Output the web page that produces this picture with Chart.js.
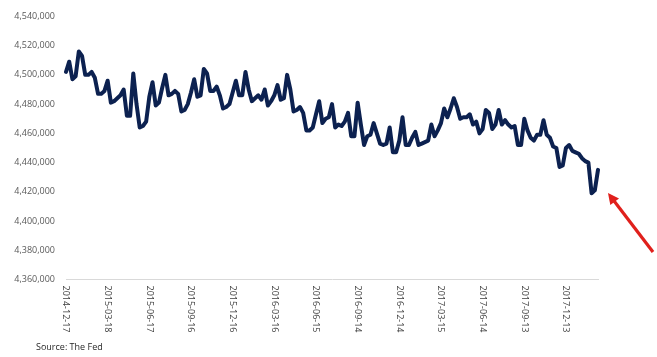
<!DOCTYPE html>
<html>
<head>
<meta charset="utf-8">
<script src="https://cdn.jsdelivr.net/npm/chart.js@4"></script>
<style>
  html, body { margin: 0; padding: 0; background: #fff; }
  #wrap { position: relative; width: 657px; height: 357px; }
  #source { position: absolute; left: 36px; top: 340px; font: 9px "Open Sans", sans-serif; color: #262626; }
</style>
</head>
<body>
<div id="wrap">
  <canvas id="c" width="657" height="357"></canvas>
  <div id="source">Source: The Fed</div>
</div>
<script>
// ---- data ----
const startDate = "2014-12-17";
const tickLabels = ["2014-12-17","2015-03-18","2015-06-17","2015-09-16","2015-12-16","2016-03-16","2016-06-15","2016-09-14","2016-12-14","2017-03-15","2017-06-14","2017-09-13","2017-12-13"];
const seriesValues = [
  4502000,4509000,4497000,4499000,4516000,4513000,4500000,4500000,4502000,4498000,
  4487000,4487000,4489000,4496000,4481000,4482000,4484000,4486000,4490000,4472000,
  4472000,4501000,4480000,4464000,4465000,4468000,4485000,4495000,4479000,4481000,
  4491000,4500000,4486000,4487000,4489000,4487000,4475000,4476000,4480000,4488000,
  4497000,4485000,4486000,4504000,4501000,4489000,4489000,4492000,4486000,4477000,
  4478000,4480000,4488000,4496000,4486000,4486000,4502000,4490000,4482000,4484000,
  4486000,4483000,4490000,4479000,4482000,4486000,4493000,4483000,4484000,4500000,
  4490000,4475000,4476000,4478000,4474000,4462000,4462000,4464000,4473000,4482000,
  4467000,4470000,4471000,4480000,4464000,4466000,4465000,4468000,4474000,4458000,
  4458000,4481000,4466000,4452000,4458000,4459000,4467000,4460000,4453000,4452000,
  4453000,4464000,4447000,4447000,4455000,4471000,4452000,4452000,4457000,4461000,
  4452000,4453000,4454000,4455000,4466000,4458000,4462000,4467000,4477000,4471000,
  4477000,4484000,4478000,4470000,4471000,4471000,4473000,4466000,4468000,4460000,
  4463000,4476000,4474000,4463000,4466000,4476000,4466000,4469000,4466000,4464000,
  4465000,4452000,4452000,4470000,4462000,4457000,4455000,4459000,4459000,4469000,
  4459000,4457000,4451000,4450000,4437000,4438000,4450000,4452000,4448000,4447000,
  4446000,4443000,4441000,4440000,4419000,4421000,4435000
];
const yMin = 4360000, yMax = 4540000, yStep = 20000;

// weekly category dates
const categories = seriesValues.map((_, i) => {
  const d = new Date(startDate + "T00:00:00Z");
  d.setUTCDate(d.getUTCDate() + 7 * i);
  return d.toISOString().slice(0, 10);
});

const FONT = '"Open Sans", sans-serif';
const fmt = v => v.toLocaleString('en-US');

const rotatedLabels = {
  id: 'rotatedLabels',
  afterDraw(chart) {
    const ctx = chart.ctx, xs = chart.scales.x;
    ctx.save();
    ctx.font = '9px ' + FONT;
    ctx.fillStyle = '#404040';
    ctx.textAlign = 'left';
    ctx.textBaseline = 'middle';
    categories.forEach((lab, i) => {
      if (!tickLabels.includes(lab)) return;
      const x = xs.getPixelForValue(i);
      ctx.save();
      ctx.translate(x, chart.chartArea.bottom + 6);
      ctx.rotate(Math.PI / 2);
      ctx.fillText(lab, 0, 0);
      ctx.restore();
    });
    ctx.restore();
  }
};

const arrowPlugin = {
  id: 'arrow',
  afterDraw(chart) {
    const ctx = chart.ctx;
    const x1 = 653, y1 = 252, x2 = 608, y2 = 193;
    const ang = Math.atan2(y2 - y1, x2 - x1);
    const hl = 11, hw = 5.5;
    ctx.save();
    ctx.strokeStyle = '#e0201c';
    ctx.fillStyle = '#e0201c';
    ctx.lineWidth = 3.2;
    ctx.beginPath();
    ctx.moveTo(x1, y1);
    ctx.lineTo(x2 - Math.cos(ang) * hl * 0.8, y2 - Math.sin(ang) * hl * 0.8);
    ctx.stroke();
    ctx.beginPath();
    ctx.moveTo(x2, y2);
    ctx.lineTo(x2 - Math.cos(ang) * hl + Math.sin(ang) * hw, y2 - Math.sin(ang) * hl - Math.cos(ang) * hw);
    ctx.lineTo(x2 - Math.cos(ang) * hl - Math.sin(ang) * hw, y2 - Math.sin(ang) * hl + Math.cos(ang) * hw);
    ctx.closePath();
    ctx.fill();
    ctx.restore();
  }
};

new Chart(document.getElementById('c'), {
  type: 'line',
  data: {
    labels: categories,
    datasets: [{
      data: seriesValues,
      borderColor: '#0c2150',
      borderWidth: 4,
      pointRadius: 0,
      tension: 0,
      borderJoinStyle: 'round',
      borderCapStyle: 'round',
      fill: false
    }]
  },
  options: {
    responsive: false,
    animation: false,
    events: [],
    layout: { padding: { left: 0, right: 59, top: 9.5, bottom: 0 } },
    plugins: { legend: { display: false }, tooltip: { enabled: false }, title: { display: false } },
    scales: {
      x: {
        type: 'category',
        offset: false,
        grid: { display: false, drawTicks: false },
        border: { display: true, color: '#d9d9d9', width: 1 },
        ticks: { display: false },
        afterFit: s => { s.height = 357 - 279.5 - 0; }
      },
      y: {
        min: yMin, max: yMax,
        grid: { display: false, drawTicks: false },
        border: { display: false },
        ticks: {
          stepSize: yStep,
          padding: 11,
          color: '#595959',
          font: { family: FONT, size: 9 },
          callback: v => fmt(v)
        },
        afterFit: s => { s.width = 66; }
      }
    }
  },
  plugins: [rotatedLabels, arrowPlugin]
});
</script>
</body>
</html>
